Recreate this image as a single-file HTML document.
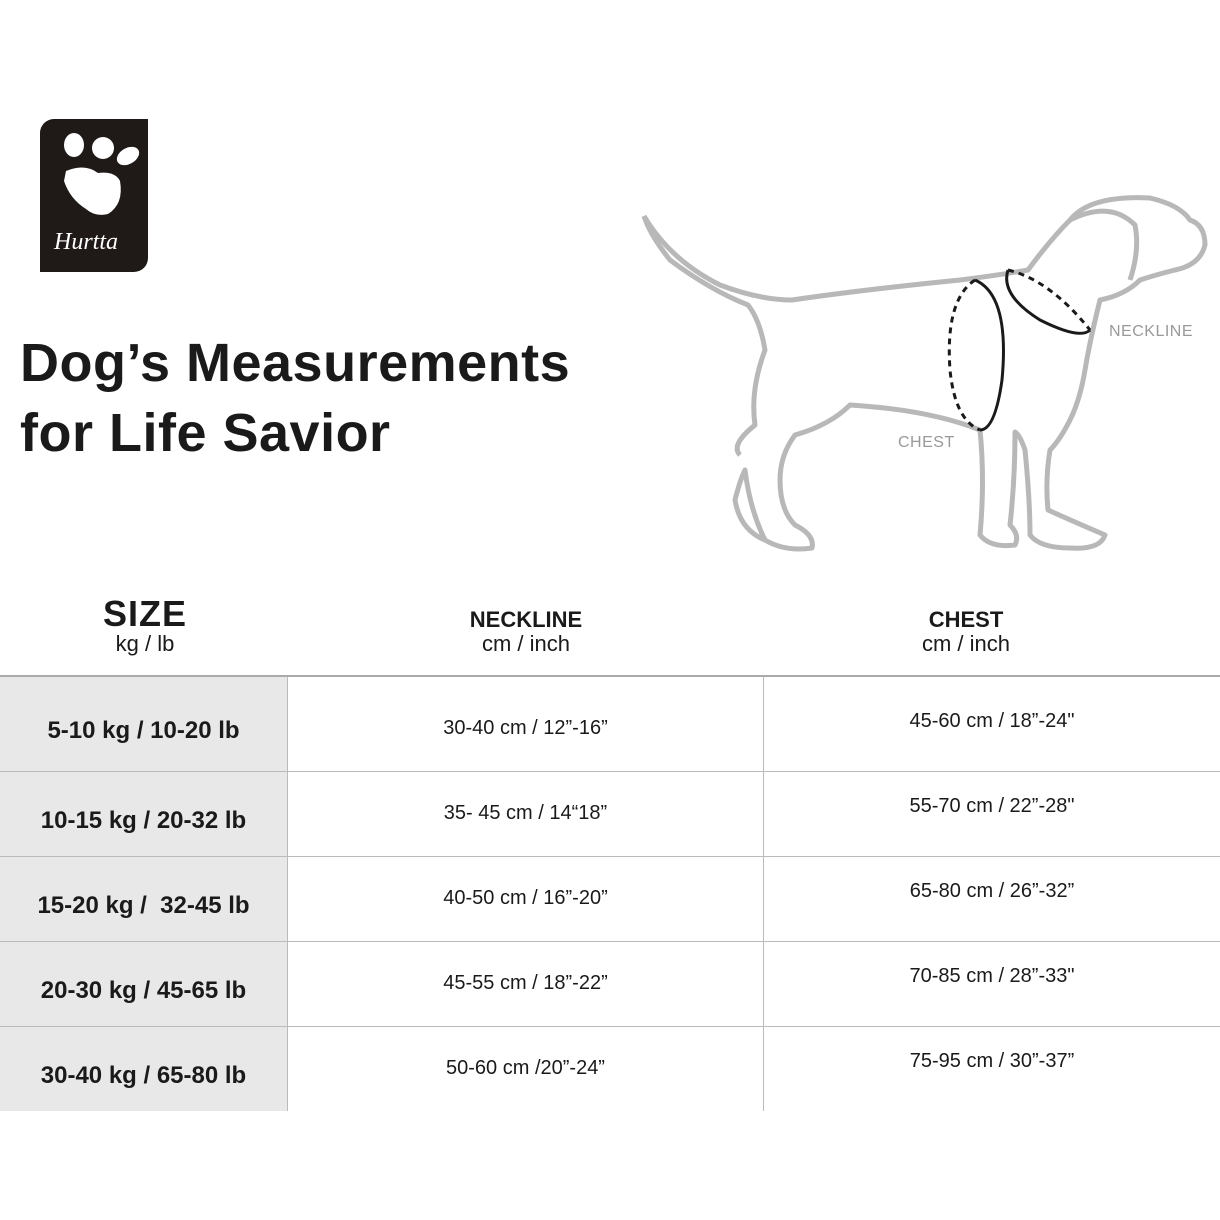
<!DOCTYPE html>
<html><head><style>
body{margin:0;width:1220px;height:1220px;background:#fff;position:relative;overflow:hidden;font-family:"Liberation Sans",sans-serif;color:#1a1a1a}
.a{position:absolute}
.title{left:20px;top:328px;font-size:54px;font-weight:bold;line-height:70px;letter-spacing:0.5px}
.h{text-align:center;line-height:24px}
.cell{position:absolute;display:flex;align-items:center;justify-content:center;font-size:20px}
.l{font-weight:bold;font-size:24px;background:#e8e8e8;left:0;width:287px;box-sizing:border-box;padding-top:14px}
</style></head><body>
<div class="a" style="left:40px;top:119px;width:108px;height:153px;background:#1f1a17;border-radius:14px 0 14px 0"></div>
<svg class="a" style="left:40px;top:119px" width="108" height="153">
<ellipse cx="34" cy="26" rx="10" ry="12" fill="#fff"/><ellipse cx="63" cy="29" rx="11" ry="11" fill="#fff"/><ellipse cx="88" cy="37" rx="12" ry="8" transform="rotate(-30 88 37)" fill="#fff"/>
<path d="M26 52 Q45 44 58 54 Q75 52 80 62 Q84 85 68 95 Q55 98 46 90 Q30 80 24 62 Z" fill="#fff"/>
<text x="14" y="130" fill="#fff" font-family="Liberation Serif" font-style="italic" font-size="24">Hurtta</text>
</svg>
<div class="a title">Dog’s Measurements<br>for Life Savior</div>
<svg class="a" style="left:630px;top:180px" width="590" height="390" fill="none" stroke="#b8b8b8" stroke-width="5" stroke-linejoin="round">
<path d="M14 36 Q40 80 90 105 Q130 120 162 120 Q230 110 330 100 Q370 95 398 90 Q420 60 440 40 Q460 15 520 18 Q550 25 560 40 Q575 45 575 65 Q570 85 545 90 Q525 95 510 100 Q495 115 470 120 Q460 160 455 190 Q450 220 440 240 Q430 260 420 270 Q415 300 418 330 Q440 340 475 355 Q470 370 440 368 Q410 368 400 355 Q400 320 395 270 Q390 255 385 252 Q385 300 380 345 Q390 355 385 365 Q360 368 350 355 Q355 300 350 250 Q300 230 220 225 Q200 245 165 255 Q150 275 150 300 Q150 330 165 345 Q185 355 182 368 Q155 372 135 360 Q120 330 115 290 Q110 300 105 320 Q110 350 135 360 M110 275 Q100 265 125 245 Q120 210 135 170 Q130 140 118 125 Q80 110 40 80 Q20 55 14 36"/>
<path d="M440 40 Q480 20 505 45 Q510 70 500 100" />
</svg>
<svg class="a" style="left:940px;top:260px" width="170" height="180" fill="none" stroke="#1a1a1a" stroke-width="3">
<path d="M35 20 Q70 35 62 120 Q55 170 40 170" />
<path d="M35 20 Q5 40 10 110 Q15 160 40 170" stroke-dasharray="6 5"/>
<path d="M68 10 Q60 35 100 60 Q140 80 150 70" />
<path d="M68 10 Q110 20 150 70" stroke-dasharray="6 5"/>
</svg>
<div class="a" style="left:1109px;top:323px;font-size:16px;color:#999;letter-spacing:0.5px">NECKLINE</div>
<div class="a" style="left:898px;top:434px;font-size:16px;color:#999;letter-spacing:0.5px">CHEST</div>
<div class="a h" style="left:45px;width:200px;top:596px"><div style="font-size:36px;font-weight:bold;line-height:36px;letter-spacing:1px">SIZE</div><div style="font-size:22px">kg / lb</div></div>
<div class="a h" style="left:426px;width:200px;top:608px;font-size:22px"><b>NECKLINE</b><br>cm / inch</div>
<div class="a h" style="left:866px;width:200px;top:608px;font-size:22px"><b>CHEST</b><br>cm / inch</div>
<div class="a" style="left:0;top:675px;width:1220px;height:2px;background:#aaa"></div>
<div class="cell l" style="top:677px;height:94px">5-10 kg / 10-20 lb</div>
<div class="cell l" style="top:772px;height:84px">10-15 kg / 20-32 lb</div>
<div class="cell l" style="top:857px;height:84px">15-20 kg /&nbsp; 32-45 lb</div>
<div class="cell l" style="top:942px;height:84px">20-30 kg / 45-65 lb</div>
<div class="cell l" style="top:1027px;height:84px">30-40 kg / 65-80 lb</div>
<div class="a" style="left:0;top:771px;width:1220px;height:1px;background:#bbb"></div>
<div class="a" style="left:0;top:856px;width:1220px;height:1px;background:#bbb"></div>
<div class="a" style="left:0;top:941px;width:1220px;height:1px;background:#bbb"></div>
<div class="a" style="left:0;top:1026px;width:1220px;height:1px;background:#bbb"></div>
<div class="a" style="left:287px;top:677px;width:1px;height:434px;background:#bbb"></div>
<div class="a" style="left:763px;top:677px;width:1px;height:434px;background:#bbb"></div>
<div class="cell" style="left:288px;width:475px;top:708px;height:40px">30-40 cm / 12”-16”</div>
<div class="cell" style="left:288px;width:475px;top:793px;height:40px">35- 45 cm / 14“18”</div>
<div class="cell" style="left:288px;width:475px;top:878px;height:40px">40-50 cm / 16”-20”</div>
<div class="cell" style="left:288px;width:475px;top:963px;height:40px">45-55 cm / 18”-22”</div>
<div class="cell" style="left:288px;width:475px;top:1048px;height:40px">50-60 cm /20”-24”</div>
<div class="cell" style="left:764px;width:456px;top:701px;height:40px">45-60 cm / 18”-24"</div>
<div class="cell" style="left:764px;width:456px;top:786px;height:40px">55-70 cm / 22”-28"</div>
<div class="cell" style="left:764px;width:456px;top:871px;height:40px">65-80 cm / 26”-32”</div>
<div class="cell" style="left:764px;width:456px;top:956px;height:40px">70-85 cm / 28”-33"</div>
<div class="cell" style="left:764px;width:456px;top:1041px;height:40px">75-95 cm / 30”-37”</div>
</body></html>
